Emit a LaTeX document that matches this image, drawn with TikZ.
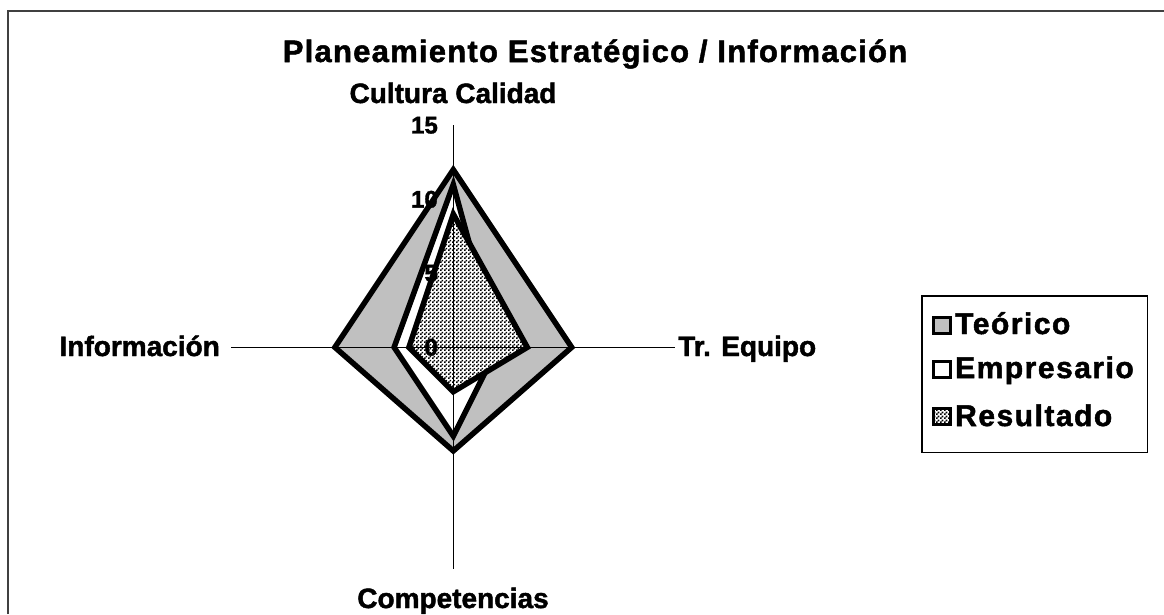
\documentclass[tikz,border=0pt]{standalone}
\usepackage{fontspec}
\setmainfont{Liberation Sans}[BoldFeatures={FakeBold=1.6}]
\usetikzlibrary{patterns}
\pgfdeclarepatternformonly{chk}{\pgfpointorigin}{\pgfpoint{4pt}{4pt}}{\pgfpoint{4pt}{4pt}}{%
  \pgfpathrectangle{\pgfpointorigin}{\pgfpoint{2pt}{2pt}}%
  \pgfpathrectangle{\pgfpoint{2pt}{2pt}}{\pgfpoint{2pt}{2pt}}%
  \pgfusepath{fill}}
\definecolor{teo}{RGB}{192,192,192}
\definecolor{framecol}{RGB}{64,64,64}
\def\ctrx{453.3}
\def\ctry{347.3}
\def\ru{14.8}
\begin{document}
\begin{tikzpicture}[x=1pt,y=-1pt,
  series/.style={line width=5.5pt, line join=miter, draw=black},
  axisline/.style={line width=1pt, draw=black},
  axlabel/.style={font=\fontsize{28}{28}\selectfont\bfseries, inner sep=0pt},
  ticklab/.style={font=\fontsize{24}{24}\selectfont\bfseries, inner sep=0pt, anchor=east},
  legtext/.style={font=\fontsize{30}{30}\selectfont\bfseries\addfontfeature{LetterSpace=5}, inner sep=0pt, anchor=base west},
  swatch/.style={draw=black, line width=3pt, minimum width=17pt, minimum height=16pt, inner sep=0pt}
]
\useasboundingbox (0,0) rectangle (1164,614);
\fill[white] (0,0) rectangle (1164,614);
% frame
\coordinate (f1) at (8,614);
\coordinate (f2) at (8,11);
\coordinate (f3) at (1164,11);
\draw[draw=framecol, line width=2pt] (f1) -- (f2) -- (f3);
% centre and axis ends
\coordinate (O) at (\ctrx,\ctry);
\coordinate (Atop) at (\ctrx,{\ctry-15*\ru});
\coordinate (Aright) at ({\ctrx+15*\ru},\ctry);
\coordinate (Abot) at (\ctrx,{\ctry+15*\ru});
\coordinate (Aleft) at ({\ctrx-15*\ru},\ctry);
% Teorico: 12, 8, 7, 8
\filldraw[series, fill=teo] (\ctrx,{\ctry-12*\ru}) -- ({\ctrx+8*\ru},\ctry) -- (\ctrx,{\ctry+7*\ru}) -- ({\ctrx-8*\ru},\ctry) -- cycle;
% Empresario: 11, 3, 6, 4
\filldraw[series, fill=white] (\ctrx,{\ctry-11*\ru}) -- ({\ctrx+3*\ru},\ctry) -- (\ctrx,{\ctry+6*\ru}) -- ({\ctrx-4*\ru},\ctry) -- cycle;
% Resultado: 9, 5, 3, 3
\draw[series, pattern=chk, preaction={fill=white}] (\ctrx,{\ctry-9*\ru}) -- ({\ctrx+5*\ru},\ctry) -- (\ctrx,{\ctry+3*\ru}) -- ({\ctrx-3*\ru},\ctry) -- cycle;
% axes
\draw[axisline] (O) -- (Atop);
\draw[axisline] (O) -- (Aright);
\draw[axisline] (O) -- (Abot);
\draw[axisline] (O) -- (Aleft);
% tick labels
\node[ticklab] (t15) at (438,{\ctry-15*\ru}) {15};
\node[ticklab] (t10) at (438,{\ctry-10*\ru}) {10};
\node[ticklab] (t5) at (438,{\ctry-5*\ru}) {5};
\node[ticklab] (t0) at (438,\ctry) {0};
% axis labels
\node[axlabel, anchor=base] (cc) at (453,103) {Cultura Calidad};
\node[axlabel, anchor=base east] (inf) at (220,356) {Información};
\node[axlabel, anchor=base west] (tr) at (678,356) {Tr. Equipo};
\node[axlabel, anchor=base] (comp) at (453,608) {Competencias};
% title
\node[font=\fontsize{31}{31}\selectfont\bfseries\addfontfeature{LetterSpace=4}, inner sep=0pt, anchor=base] (title) at (595,62) {Planeamiento Estratégico / Información};
% legend
\node[draw=black, line width=1.5pt, minimum width=225.5pt, minimum height=156.5pt, inner sep=0pt] (leg) at (1034.5,374) {};
\node[swatch, fill=teo] (s1) at (942,325) {};
\node[swatch, fill=white] (s2) at (942,369) {};
\node[swatch, pattern=chk] (s3) at (942,416) {};
\node[legtext] (l1) at (955,334) {Teórico};
\node[legtext] (l2) at (955,378) {Empresario};
\node[legtext] (l3) at (955,426) {Resultado};
\end{tikzpicture}
\end{document}
